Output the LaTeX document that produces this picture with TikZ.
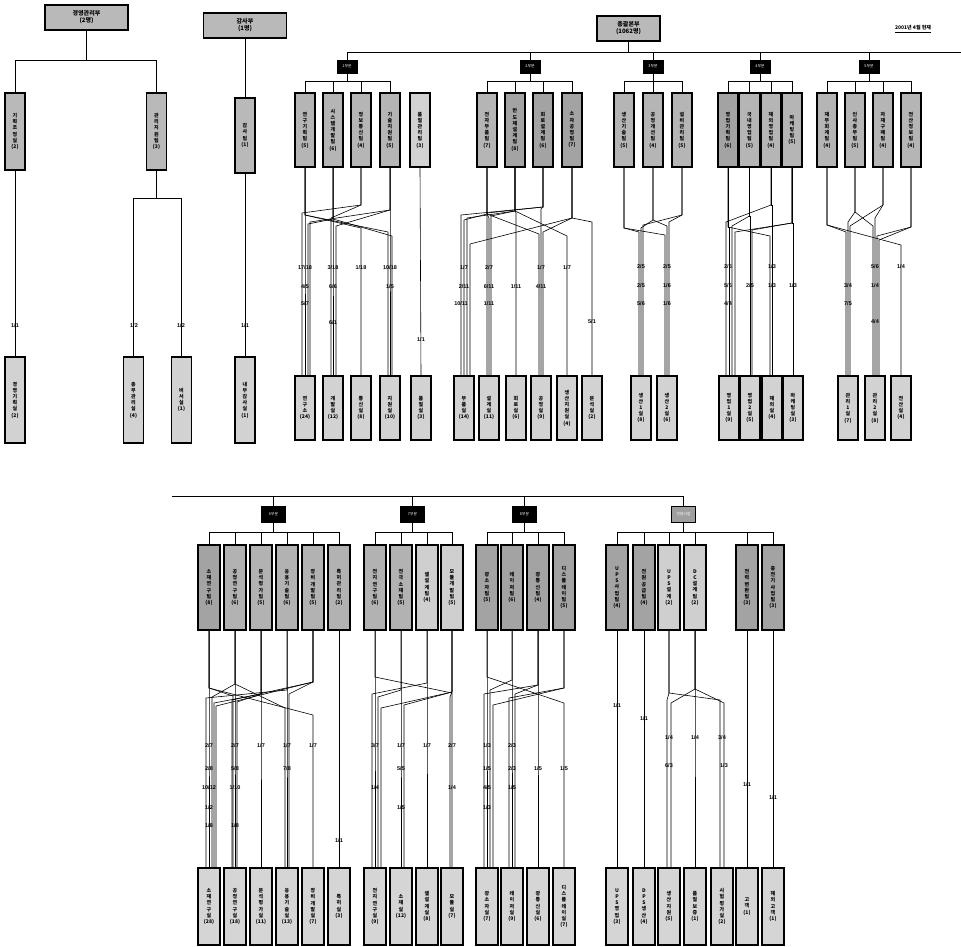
\documentclass[tikz,border=0pt]{standalone}
\usepackage{fontspec}
\setmainfont{Liberation Sans}
\newfontfamily\kr{Noto Sans CJK KR}
\usetikzlibrary{calc}
\makeatletter
\newcommand\vtext[1]{\vbox{\baselineskip=6.2pt\lineskiplimit=-5pt\lineskip=0pt\@tfor\vt@c:=#1\do{\hbox to 10pt{\hss\vt@c\hss}}}}
\makeatother
\newcommand\route[5]{\draw[conn] (#1.south) -- (#1.south |- 0,#2) -- ($(#3.north |- 0,#5)+(#4,0)$) -- ($(#3.north)+(#4,0)$);}
\tikzset{
 box/.style={draw, line width=1.2pt, inner sep=0pt, font=\kr\bfseries\fontsize{5}{6}\selectfont},
 hbox/.style={box, fill=gray!55, minimum width=83, minimum height=25, align=center, font=\kr\bfseries\fontsize{6}{7}\selectfont},
 tb/.style={box, minimum width=20, minimum height=74, fill=gray!58},
 tbd/.style={tb, fill=gray!72},
 tbl/.style={tb, fill=gray!35},
 bb/.style={box, minimum width=20, minimum height=64, fill=gray!35},
 lt/.style={box, minimum width=20, minimum height=77, fill=gray!55},
 lb/.style={box, minimum width=20, minimum height=86, fill=gray!35},
 pt/.style={box, minimum width=22, minimum height=85, fill=gray!60},
 ptd/.style={pt, fill=gray!72},
 ptl/.style={pt, fill=gray!38},
 qb/.style={box, minimum width=22, minimum height=77, fill=gray!33},
 dv/.style={draw, fill=black, text=white, inner sep=0pt, minimum width=20, minimum height=13, font=\kr\fontsize{3.8}{4}\selectfont},
 dvb/.style={dv, minimum width=24, minimum height=16},
 tree/.style={line width=0.9pt},
 conn/.style={line width=0.6pt},
 lbl/.style={inner sep=0pt, font=\fontsize{5.5}{6}\selectfont\bfseries}
}
\begin{document}
\begin{tikzpicture}[x=1pt,y=-1pt]
\useasboundingbox (0,0) rectangle (961,947);
% ---------------- left section ----------------
\node[hbox] (TL1) at (86.5,17.5) {경영관리부\\(2명)};
\node[hbox] (TL2) at (245,25.5) {감사부\\(1명)};
\node[lt] (L1) at (15,131.5) {\vtext{기획조정실{(2)}}};
\node[lt] (L2) at (156.5,131.5) {\vtext{관리지원팀{(3)}}};
\node[lt, minimum height=75] (L3) at (245,135.5) {\vtext{감사팀{(1)}}};
\node[lb] (LB1) at (15,400) {\vtext{경영기획실{(2)}}};
\node[lb] (LB2) at (133.5,400) {\vtext{총무관리실{(4)}}};
\node[lb] (LB3) at (181.5,400) {\vtext{비서실{(1)}}};
\node[lb] (LB4) at (245,400) {\vtext{내부감사실{(1)}}};
\draw[tree] (TL1.south) -- (TL1.south |- 0,60);
\draw[tree] (L1.north) |- (L2.north |- 0,60) -- (L2.north);
\draw[tree] (TL2.south) -- (L3.north);
\draw[tree] (L1.south) -- (LB1.north);
\draw[tree] (L2.south) -- (L2.south |- 0,198);
\draw[tree] (LB2.north) |- (LB3.north |- 0,198) -- (LB3.north);
\draw[tree] (L3.south) -- (LB4.north);
% ---------------- main top ----------------
\node[hbox, minimum width=63] (M) at (628.5,28.5) {총괄본부\\(1062명)};
\node[lbl, font=\kr\bfseries\fontsize{5}{6}\selectfont] (date) at (913,29) {\underline{2001년 4월 현재}};
\node[dv] (D1) at (347,66.5) {1부문};
\node[dv] (D2) at (530,66.5) {2부문};
\node[dv] (D3) at (653,66.5) {3부문};
\node[dv] (D4) at (760,66.5) {4부문};
\node[dv] (D5) at (869,66.5) {5부문};
\coordinate (rend) at (961,52);
\draw[tree] (D1.north) |- (rend);
\draw[tree] (M.south) -- (M.south |- 0,52);
\foreach \d in {D2,D3,D4,D5} \draw[tree] (\d.north) -- (\d.north |- 0,52);
% top children
\node[tb] (a1) at (305,130) {\vtext{연구기획팀{(5)}}};
\node[tb] (a2) at (333,130) {\vtext{시스템개발팀{(6)}}};
\node[tb] (a3) at (361,130) {\vtext{정보통신팀{(4)}}};
\node[tb] (a4) at (390,130) {\vtext{기술지원팀{(5)}}};
\node[tbl] (a5) at (420,130) {\vtext{품질관리팀{(3)}}};
\node[tb] (c1) at (487,130) {\vtext{전자부품팀{(7)}}};
\node[tbd] (c2) at (515,130) {\vtext{반도체설계팀{(8)}}};
\node[tbd] (c3) at (543,130) {\vtext{회로설계팀{(6)}}};
\node[tbd] (c4) at (572,130) {\vtext{소자공정팀{(7)}}};
\node[tb] (e1) at (624,130) {\vtext{생산기술팀{(5)}}};
\node[tb] (e2) at (653,130) {\vtext{공정개선팀{(4)}}};
\node[tb] (e3) at (682,130) {\vtext{설비관리팀{(5)}}};
\node[tbd] (g1) at (728,130) {\vtext{영업기획팀{(6)}}};
\node[tb] (g2) at (749.5,130) {\vtext{국내영업팀{(5)}}};
\node[tb] (g3) at (771,130) {\vtext{해외영업팀{(4)}}};
\node[tb] (g4) at (792,130) {\vtext{마케팅팀{(5)}}};
\node[tb] (k1) at (827,130) {\vtext{재무회계팀{(4)}}};
\node[tb] (k2) at (855,130) {\vtext{인사총무팀{(5)}}};
\node[tb] (k3) at (883,130) {\vtext{자재구매팀{(4)}}};
\node[tb] (k4) at (911,130) {\vtext{전산정보팀{(4)}}};
% division trees
\draw[tree] (D1.south) -- (D1.south |- 0,81);
\draw[tree] (a1.north) |- (a4.north |- 0,81) -- (a4.north);
\foreach \c in {a2,a3} \draw[tree] (\c.north) -- (\c.north |- 0,81);
\draw[tree] (D2.south) -- (D2.south |- 0,81);
\draw[tree] (c1.north) |- (c4.north |- 0,81) -- (c4.north);
\foreach \c in {c2,c3} \draw[tree] (\c.north) -- (\c.north |- 0,81);
\draw[tree] (D3.south) -- (D3.south |- 0,81);
\draw[tree] (e1.north) |- (e3.north |- 0,81) -- (e3.north);
\draw[tree] (e2.north) -- (e2.north |- 0,81);
\draw[tree] (D4.south) -- (D4.south |- 0,81);
\draw[tree] (g1.north) |- (g4.north |- 0,81) -- (g4.north);
\foreach \c in {g2,g3} \draw[tree] (\c.north) -- (\c.north |- 0,81);
\draw[tree] (D5.south) -- (D5.south |- 0,81);
\draw[tree] (k1.north) |- (k4.north |- 0,81) -- (k4.north);
\foreach \c in {k2,k3} \draw[tree] (\c.north) -- (\c.north |- 0,81);
% bottom boxes (top section)
\node[bb] (b1) at (305,408) {\vtext{연구소{(24)}}};
\node[bb] (b2) at (333,408) {\vtext{개발실{(12)}}};
\node[bb] (b3) at (361,408) {\vtext{통신실{(8)}}};
\node[bb] (b4) at (390,408) {\vtext{지원실{(10)}}};
\node[bb] (b5) at (421,408) {\vtext{품질실{(3)}}};
\node[bb] (d1) at (464,408) {\vtext{부품실{(14)}}};
\node[bb] (d2) at (489,408) {\vtext{설계실{(11)}}};
\node[bb] (d3) at (516,408) {\vtext{회로실{(6)}}};
\node[bb] (d4) at (541,408) {\vtext{공정실{(9)}}};
\node[bb] (d5) at (567,408) {\vtext{생산지원실{(4)}}};
\node[bb] (d6) at (592,408) {\vtext{분석실{(2)}}};
\node[bb] (f1) at (641,408) {\vtext{생산1실{(8)}}};
\node[bb] (f2) at (667,408) {\vtext{생산2실{(6)}}};
\node[bb] (h1) at (729,408) {\vtext{영업1실{(9)}}};
\node[bb] (h2) at (750,408) {\vtext{영업2실{(5)}}};
\node[bb] (h3) at (772,408) {\vtext{해외실{(4)}}};
\node[bb] (h4) at (793,408) {\vtext{마케팅실{(3)}}};
\node[bb] (m1) at (848,408) {\vtext{관리1실{(7)}}};
\node[bb] (m2) at (875,408) {\vtext{관리2실{(8)}}};
\node[bb] (m3) at (901,408) {\vtext{전산실{(4)}}};
% routes D1
\route{a1}{215}{b1}{0}{215}
\route{a1}{215}{b3}{0}{228}
\route{a1}{215}{b4}{-2}{232}
\route{a2}{219}{b2}{0}{219}
\route{a2}{219}{b1}{3}{224}
\route{a2}{219}{b4}{2}{236}
\route{a3}{205}{b1}{-3}{213}
\route{a3}{205}{b2}{-2}{218}
\route{a4}{210}{b1}{5}{222}
\route{a4}{210}{b2}{3}{226}
\route{a4}{210}{b4}{0}{210}
\draw[conn] (a5.south) -- (b5.north);
% routes D2
\route{c1}{214}{d1}{0}{220}
\route{c1}{214}{d2}{0}{218}
\route{c1}{214}{d4}{-2}{234}
\route{c2}{211}{d1}{3}{218}
\route{c2}{211}{d2}{2}{216}
\route{c2}{211}{d3}{0}{213}
\route{c2}{211}{d5}{0}{236}
\route{c3}{207}{d1}{-3}{215}
\route{c3}{207}{d2}{-2}{213}
\route{c3}{207}{d4}{0}{209}
\route{c4}{218}{d6}{0}{222}
\route{c4}{218}{d1}{6}{244}
\route{c4}{218}{d4}{2}{232}
% routes D3
\route{e1}{228}{f1}{-2}{232}
\route{e1}{228}{f2}{-2}{235}
\route{e2}{220}{f1}{0}{228}
\route{e2}{220}{f2}{0}{226}
\route{e3}{215}{f1}{2}{225}
\route{e3}{215}{f2}{2}{222}
% routes D4
\route{g1}{227}{h1}{0}{227}
\route{g1}{227}{h3}{-2}{236}
\route{g2}{216}{h2}{0}{216}
\route{g2}{216}{h1}{3}{226}
\route{g3}{205}{h1}{-3}{222}
\route{g3}{205}{h3}{0}{205}
\route{g4}{223}{h4}{0}{223}
\route{g4}{223}{h1}{6}{232}
\route{g4}{223}{h2}{2}{230}
% routes D5
\route{k1}{225}{m1}{-2}{232}
\route{k1}{225}{m3}{0}{245}
\route{k2}{212}{m1}{0}{222}
\route{k2}{212}{m2}{-2}{226}
\route{k3}{205}{m2}{0}{218}
\route{k3}{205}{m1}{2}{226}
\route{k4}{227}{m2}{2}{236}
\route{k4}{227}{m2}{4}{240}
% ---------------- lower section ----------------
\node[dvb] (D6) at (273.5,514) {6부문};
\node[dvb] (D7) at (412.5,514) {7부문};
\node[dvb] (D8) at (524.5,514) {8부문};
\node[dvb, fill=gray!75] (D9) at (683.5,514) {전원사업};
\coordinate (lend) at (172,496);
\draw[tree] (lend) -| (D9.north);
\foreach \d in {D6,D7,D8} \draw[tree] (\d.north) -- (\d.north |- 0,496);
\node[ptd] (p1) at (209,587.5) {\vtext{소재연구팀{(8)}}};
\node[pt] (p2) at (235,587.5) {\vtext{공정연구팀{(6)}}};
\node[pt] (p3) at (261,587.5) {\vtext{분석평가팀{(5)}}};
\node[pt] (p4) at (287,587.5) {\vtext{응용기술팀{(6)}}};
\node[pt] (p5) at (313,587.5) {\vtext{장비개발팀{(5)}}};
\node[pt] (p6) at (339,587.5) {\vtext{특허관리팀{(2)}}};
\node[pt] (r1) at (375,587.5) {\vtext{전지연구팀{(6)}}};
\node[pt] (r2) at (401,587.5) {\vtext{전극소재팀{(5)}}};
\node[ptl] (r3) at (427,587.5) {\vtext{셀설계팀{(4)}}};
\node[ptl] (r4) at (452,587.5) {\vtext{모듈개발팀{(5)}}};
\node[ptd] (t1) at (487,587.5) {\vtext{광소자팀{(5)}}};
\node[ptd] (t2) at (512,587.5) {\vtext{레이저팀{(6)}}};
\node[ptd] (t3) at (538,587.5) {\vtext{광통신팀{(4)}}};
\node[ptd] (t4) at (564,587.5) {\vtext{디스플레이팀{(5)}}};
\node[ptd] (v1) at (617,587.5) {\vtext{UPS사업팀{(4)}}};
\node[ptd] (v2) at (644,587.5) {\vtext{전원공급팀{(4)}}};
\node[ptl] (v3) at (669,587.5) {\vtext{UPS설계{(2)}}};
\node[ptl] (v4) at (695,587.5) {\vtext{DC설계팀{(2)}}};
\node[ptd] (v5) at (747,587.5) {\vtext{전력변환팀{(3)}}};
\node[ptd] (v6) at (773,587.5) {\vtext{충전기사업팀{(3)}}};
\draw[tree] (D6.south) -- (D6.south |- 0,532);
\draw[tree] (p1.north) |- (p6.north |- 0,532) -- (p6.north);
\foreach \c in {p2,p3,p4,p5} \draw[tree] (\c.north) -- (\c.north |- 0,532);
\draw[tree] (D7.south) -- (D7.south |- 0,532);
\draw[tree] (r1.north) |- (r4.north |- 0,532) -- (r4.north);
\foreach \c in {r2,r3} \draw[tree] (\c.north) -- (\c.north |- 0,532);
\draw[tree] (D8.south) -- (D8.south |- 0,532);
\draw[tree] (t1.north) |- (t4.north |- 0,532) -- (t4.north);
\foreach \c in {t2,t3} \draw[tree] (\c.north) -- (\c.north |- 0,532);
\draw[tree] (D9.south) -- (D9.south |- 0,532);
\draw[tree] (v1.north) |- (v6.north |- 0,532) -- (v6.north);
\foreach \c in {v2,v3,v4,v5} \draw[tree] (\c.north) -- (\c.north |- 0,532);
% lower bottom boxes
\node[qb] (q1) at (209,906.5) {\vtext{소재연구실{(28)}}};
\node[qb] (q2) at (235,906.5) {\vtext{공정연구실{(18)}}};
\node[qb] (q3) at (261,906.5) {\vtext{분석평가실{(11)}}};
\node[qb] (q4) at (287,906.5) {\vtext{응용기술실{(13)}}};
\node[qb] (q5) at (313,906.5) {\vtext{장비개발실{(7)}}};
\node[qb] (q6) at (339,906.5) {\vtext{특허실{(3)}}};
\node[qb] (s1) at (375,906.5) {\vtext{전지연구실{(9)}}};
\node[qb] (s2) at (401,906.5) {\vtext{소재실{(12)}}};
\node[qb] (s3) at (427,906.5) {\vtext{셀설계실{(8)}}};
\node[qb] (s4) at (452,906.5) {\vtext{모듈실{(7)}}};
\node[qb] (u1) at (487,906.5) {\vtext{광소자실{(7)}}};
\node[qb] (u2) at (512,906.5) {\vtext{레이저실{(9)}}};
\node[qb] (u3) at (538,906.5) {\vtext{광통신실{(6)}}};
\node[qb] (u4) at (564,906.5) {\vtext{디스플레이실{(7)}}};
\node[qb] (w1) at (617,906.5) {\vtext{UPS영업{(3)}}};
\node[qb] (w2) at (644,906.5) {\vtext{DPS생산{(4)}}};
\node[qb] (w3) at (669,906.5) {\vtext{생산지원{(5)}}};
\node[qb] (w4) at (695,906.5) {\vtext{품질보증{(1)}}};
\node[qb] (w5) at (722,906.5) {\vtext{시험평가실{(2)}}};
\node[qb] (w6) at (747,906.5) {\vtext{고객{(1)}}};
\node[qb] (w7) at (773,906.5) {\vtext{해외고객{(1)}}};
% routes D6
\route{p1}{688}{q1}{0}{688}
\route{p1}{688}{q2}{-2}{696}
\route{p1}{688}{q5}{0}{715}
\route{p2}{684}{q2}{0}{684}
\route{p2}{684}{q1}{3}{697}
\route{p2}{684}{q4}{-2}{708}
\route{p3}{694}{q1}{5}{703}
\route{p3}{694}{q2}{2}{702}
\route{p3}{694}{q3}{0}{694}
\route{p4}{690}{q1}{-3}{698}
\route{p4}{690}{q4}{0}{690}
\route{p5}{682}{q1}{7}{706}
\route{p5}{682}{q2}{-3}{700}
\route{p5}{682}{q4}{2}{694}
\draw[conn] (p6.south) -- (q6.north);
% routes D7
\route{r1}{677}{s1}{0}{677}
\route{r1}{677}{s4}{0}{693}
\route{r2}{690}{s2}{0}{690}
\route{r2}{690}{s1}{3}{697}
\route{r3}{683}{s3}{0}{683}
\route{r3}{683}{s1}{-3}{694}
\route{r4}{692}{s4}{-2}{697}
\route{r4}{692}{s2}{3}{705}
\route{r4}{692}{s1}{6}{708}
% routes D8
\route{t1}{677}{u1}{0}{677}
\route{t1}{677}{u4}{0}{703}
\route{t2}{680}{u2}{0}{680}
\route{t2}{680}{u1}{3}{690}
\route{t3}{685}{u3}{0}{685}
\route{t3}{685}{u1}{-3}{694}
\route{t3}{685}{u2}{3}{694}
\route{t4}{688}{u2}{-3}{698}
\route{t4}{688}{u1}{6}{705}
% routes D9
\draw[conn] (v1.south) -- (w1.north);
\draw[conn] (v2.south) -- (w2.north);
\route{v3}{693}{w3}{-2}{700}
\route{v3}{693}{w5}{-2}{700}
\route{v4}{689}{w4}{0}{689}
\route{v4}{689}{w3}{2}{703}
\route{v4}{689}{w5}{2}{703}
\draw[conn] (v5.south) -- (w6.north);
\draw[conn] (v6.south) -- (w7.north);
% ---------------- labels ----------------
\foreach \x/\y/\a/\b [count=\i] in {
 15/326/1/1, 134/326/1/2, 181/326/1/2, 245/326/1/1,
 305/268/17/18, 333/268/3/18, 361/268/1/18, 390/268/10/18,
 305/287/4/5, 333/287/6/6, 390/287/1/5, 305/304/5/7, 333/323/6/1, 421/340/1/1,
 464/268/1/7, 489/268/2/7, 541/268/1/7, 567/268/1/7,
 464/287/2/11, 489/287/6/11, 516/287/1/11, 541/287/4/11,
 461/304/10/11, 489/304/1/11, 592/322/5/1,
 641/267/2/5, 667/267/2/5, 641/286/2/5, 667/286/1/6, 641/304/5/6, 667/304/1/6,
 728/267/2/5, 772/267/1/3, 728/286/5/5, 750/286/2/5, 772/286/1/3, 793/286/1/3, 728/304/4/4,
 848/286/3/4, 848/304/7/5, 875/267/5/6, 875/286/1/4, 875/322/4/4, 901/267/1/4,
 209/746/2/7, 235/746/2/7, 261/746/1/7, 287/746/1/7, 313/746/1/7,
 209/769/2/8, 235/769/5/8, 287/769/7/8, 209/788/10/12, 235/788/1/10,
 209/808/1/2, 209/826/1/8, 235/826/1/8, 339/841/1/1,
 375/746/3/7, 401/746/1/7, 427/746/1/7, 452/746/2/7, 401/769/5/5,
 375/788/1/4, 452/788/1/4, 401/808/1/5,
 487/746/1/3, 512/746/2/3, 487/769/1/5, 512/769/2/3, 538/769/1/5, 564/769/1/5,
 487/788/4/5, 512/788/1/5, 487/808/1/3,
 617/706/1/1, 644/719/1/1, 669/738/1/4, 695/738/1/4, 722/738/3/4,
 669/766/6/3, 724/766/1/3, 747/785/1/1, 773/798/1/1}
 \node[lbl] (lab\i) at (\x,\y) {\a/\b};
\end{tikzpicture}
\end{document}
